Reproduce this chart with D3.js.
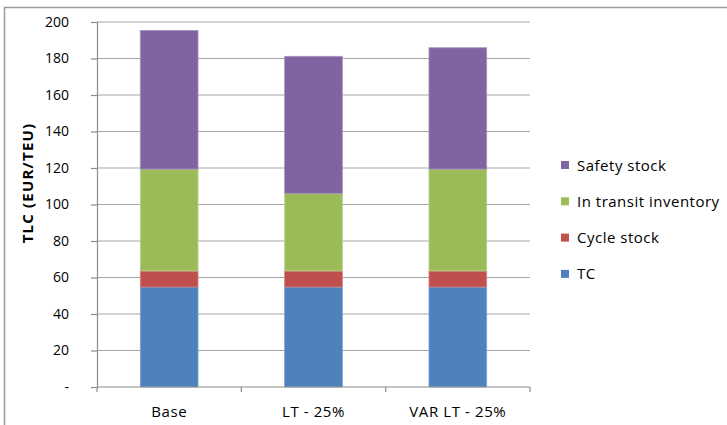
<!DOCTYPE html>
<html>
<head>
<meta charset="utf-8">
<script src="https://cdn.jsdelivr.net/npm/d3@7"></script>
<style>
  html, body { margin: 0; padding: 0; background: #fff; }
  svg { display: block; }
  text { font-family: "Open Sans", "Liberation Sans", sans-serif; fill: #000; }
</style>
</head>
<body>
<svg id="chart" width="727" height="425"></svg>
<script>
// Scenarios on the x axis
const categories = ["Base", "LT - 25%", "VAR LT - 25%"];
// Stack order, bottom to top
const seriesNames = ["TC", "Cycle stock", "In transit inventory", "Safety stock"];
const tc = [54.8, 54.8, 54.8];
const cycleStock = [8.8, 8.8, 8.8];
const inTransit = [55.8, 42.5, 55.8];
const safetyStock = [76.0, 75.1, 66.5];
const yTicks = [0, 20, 40, 60, 80, 100, 120, 140, 160, 180, 200];
const colors = ["#4F81BD", "#C0504D", "#9BBB59", "#8064A2"];
const edgeColors = ["#7FA3D1", "#D48583", "#BBD290", "#A693C0"];

const rows = categories.map((c, i) => ({
  cat: c,
  "TC": tc[i],
  "Cycle stock": cycleStock[i],
  "In transit inventory": inTransit[i],
  "Safety stock": safetyStock[i]
}));

const svg = d3.select("#chart");
const plot = { left: 97, right: 530, top: 22, bottom: 387 };

// Outer chart frame
svg.append("rect")
  .attr("x", 4.5).attr("y", 7.5)
  .attr("width", 740).attr("height", 440)
  .attr("fill", "none").attr("stroke", "#9a9a9a").attr("stroke-width", 1.5);

const x = d3.scaleBand().domain(categories)
  .range([plot.left, plot.right])
  .paddingInner(0.6).paddingOuter(0.3);
const xEdge = d3.scaleBand().domain(categories).range([plot.left, plot.right]);
const y = d3.scaleLinear().domain([0, 200]).range([plot.bottom, plot.top]);

// Horizontal gridlines
svg.append("g").selectAll("line").data(yTicks.filter(d => d > 0)).join("line")
  .attr("x1", plot.left).attr("x2", plot.right)
  .attr("y1", d => y(d)).attr("y2", d => y(d))
  .attr("stroke", "#a6a6a6").attr("stroke-width", 1.2);

// Stacked bars
const stack = d3.stack().keys(seriesNames)(rows);
svg.append("g").selectAll("g").data(stack).join("g")
  .attr("fill", (d, i) => colors[i])
  .attr("stroke", (d, i) => edgeColors[i])
  .attr("stroke-width", 0.8)
  .selectAll("rect").data(d => d).join("rect")
  .attr("x", d => x(d.data.cat))
  .attr("width", x.bandwidth())
  .attr("y", d => y(d[1]))
  .attr("height", d => y(d[0]) - y(d[1]));

// Y axis
const yAxis = d3.axisLeft(y).tickValues(yTicks)
  .tickFormat(d => d === 0 ? "-" : d3.format("d")(d))
  .tickSize(6).tickPadding(8);
const gy = svg.append("g").attr("transform", `translate(${plot.left},0)`).call(yAxis);
gy.select(".domain").attr("stroke", "#8c8c8c").attr("stroke-width", 1.2);
gy.selectAll(".tick line").attr("stroke", "#8c8c8c").attr("stroke-width", 1.2);
gy.selectAll(".tick text").attr("font-size", 14).attr("font-family", "Open Sans, sans-serif")
  .attr("dx", -14);

// X axis with ticks at band boundaries
const gx = svg.append("g").attr("transform", `translate(0,${plot.bottom})`);
gx.append("line").attr("x1", plot.left).attr("x2", plot.right)
  .attr("stroke", "#8c8c8c").attr("stroke-width", 1.2);
const edges = categories.map(c => xEdge(c)).concat([plot.right]);
gx.selectAll(".edge").data(edges).join("line").attr("class", "edge")
  .attr("x1", d => d).attr("x2", d => d).attr("y1", 0).attr("y2", 5)
  .attr("stroke", "#8c8c8c").attr("stroke-width", 1.2);
gx.selectAll("text").data(categories).join("text")
  .attr("x", d => x(d) + x.bandwidth() / 2)
  .attr("y", 30)
  .attr("text-anchor", "middle")
  .attr("font-size", 15)
  .attr("letter-spacing", 0.6)
  .text(d => d);

// Y axis title
svg.append("text")
  .attr("transform", "translate(33,183) rotate(-90)")
  .attr("text-anchor", "middle")
  .attr("font-size", 15)
  .attr("font-weight", "bold")
  .attr("letter-spacing", 1.2)
  .text("TLC (EUR/TEU)");

// Legend, top series first
const legendItems = seriesNames.map((n, i) => ({ name: n, color: colors[i] })).reverse();
const legend = svg.append("g").selectAll("g").data(legendItems).join("g")
  .attr("transform", (d, i) => `translate(561,${165 + i * 36.3})`);
legend.append("rect")
  .attr("x", 0).attr("y", -4).attr("width", 8).attr("height", 8)
  .attr("fill", d => d.color);
legend.append("text")
  .attr("x", 16).attr("y", 5.5)
  .attr("font-size", 15)
  .attr("letter-spacing", 0.5)
  .text(d => d.name);
</script>
</body>
</html>
